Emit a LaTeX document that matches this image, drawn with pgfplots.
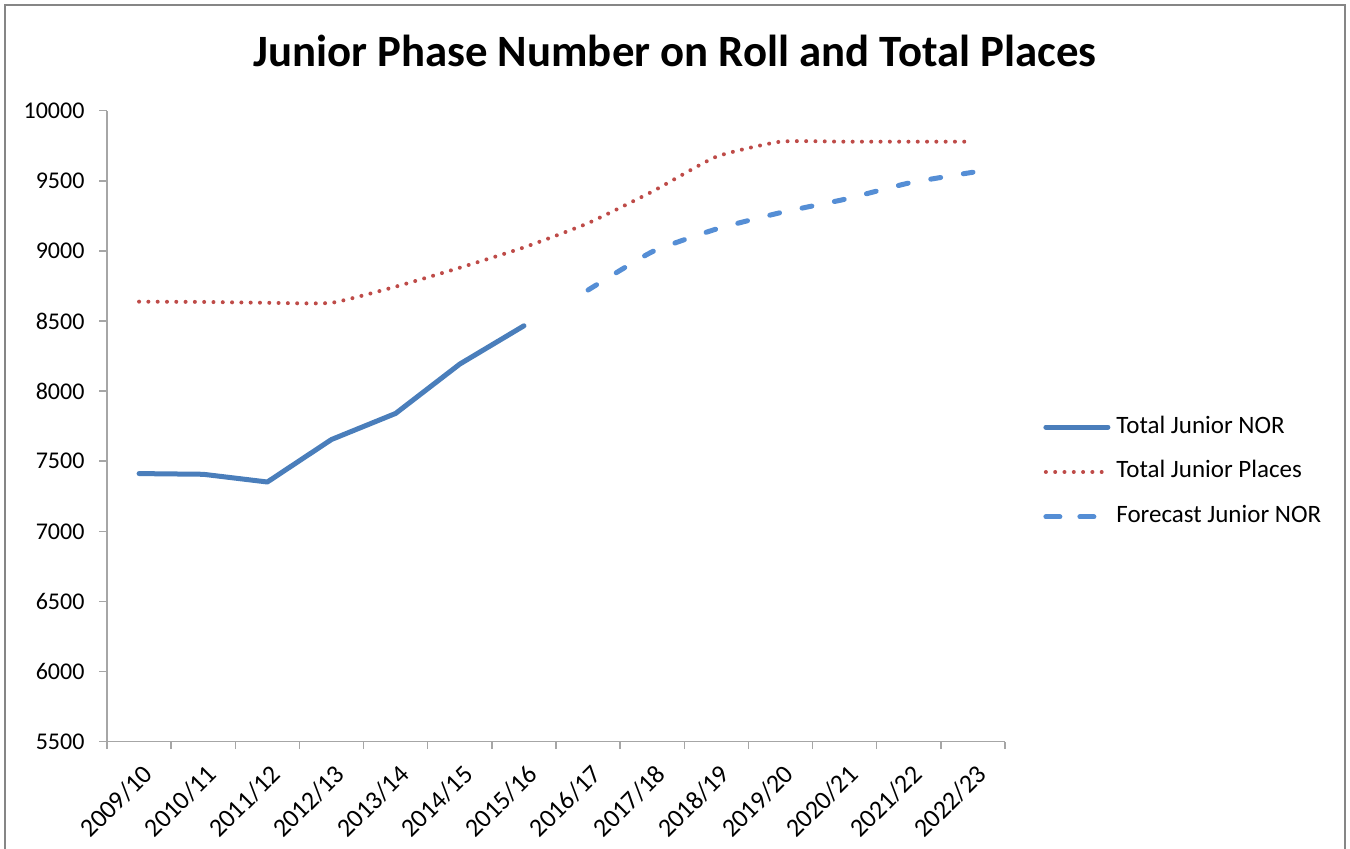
\documentclass[border=0pt]{standalone}
\usepackage{pgfplots}
\pgfplotsset{compat=1.18}
\usepackage{fontspec}
\setmainfont{Carlito}
\definecolor{norblue}{HTML}{4A7EBB}
\definecolor{placered}{HTML}{BE4B48}
\definecolor{fcblue}{HTML}{558ED5}
\definecolor{axgray}{HTML}{A6A6A6}
\definecolor{framegray}{HTML}{868686}
\pgfplotsset{fclegend/.style={legend image code/.code={\draw[#1, dash pattern=on 7pt off 10pt] (1.25pt,0pt) -- (25.25pt,0pt);}}}
\begin{document}
\begin{tikzpicture}[x=1pt,y=1pt]
\useasboundingbox (0,0) rectangle (675,424.5);
\draw[framegray, line width=1pt] (2.5,-5) -- (2.5,422) -- (672.5,422) -- (672.5,-5);
\node[font=\fontsize{22.4}{27}\selectfont\bfseries, anchor=base] at (337.5,391) {Junior Phase Number on Roll and Total Places};
\begin{axis}[
  at={(53.5pt,53.65pt)}, anchor=south west,
  width=449pt, height=315.5pt, scale only axis,
  xmin=-0.5, xmax=13.5, ymin=5500, ymax=10000,
  ytick={5500,6000,...,10000},
  scaled y ticks=false,
  xtick={-0.5,0.5,...,13.5},
  xticklabels={},
  extra x ticks={0,...,13},
  extra x tick labels={2009/10,2010/11,2011/12,2012/13,2013/14,2014/15,2015/16,2016/17,2017/18,2018/19,2019/20,2020/21,2021/22,2022/23},
  extra x tick style={major tick length=0pt, xticklabel style={xshift=1pt, yshift=-10.5pt, rotate=45, anchor=north east, inner sep=0pt, text height=9pt, font=\fontsize{13}{15}\selectfont}},
  axis lines=left,
  axis line style={-, draw=axgray, line width=0.75pt},
  tick align=outside,
  tick style={axgray, line width=0.75pt},
  major tick length=3.75pt,
  /pgf/number format/assume math mode=true,
  /pgf/number format/1000 sep={},
  tick label style={font=\fontsize{12}{14}\selectfont, black},
  yticklabel style={anchor=east, xshift=-4pt},
  clip=false,
  legend style={at={(axis description cs:1.0423,0.4274)}, anchor=west, draw=none, fill=none,
    font=\fontsize{12.5}{14}\selectfont, inner sep=0pt, row sep=11.5pt,
    nodes={inner sep=0pt, text height=8.5pt, text depth=2.5pt},
    /tikz/every odd column/.append style={column sep=3pt}},
  legend cell align=left,
  legend image code/.code={\draw[#1] (1.25pt,0pt) -- (32.25pt,0pt);},
]
\addplot[norblue, line width=2.5pt, line cap=round, line join=round] coordinates {(0,7412)(1,7407)(2,7352)(3,7655)(4,7841)(5,8193)(6,8466)};
\addlegendentry{Total Junior NOR}
\addplot[placered, line width=2pt, line cap=round, dash pattern=on 0pt off 4.65pt, smooth, tension=0.3] coordinates {(0,8638)(1,8636)(2,8630)(3,8630)(4,8745)(5,8880)(6,9025)(7,9198)(8,9423)(9,9672)(10,9779)(11,9779)(12,9779)(13,9779)};
\addlegendentry{Total Junior Places}
\addplot[fcblue, line width=2.5pt, line cap=round, dash pattern=on 5pt off 11.5pt, smooth, tension=0.3, fclegend] coordinates {(7,8721)(8,8994)(9,9156)(10,9273)(11,9368)(12,9484)(13,9561)};
\addlegendentry{Forecast Junior NOR}
\end{axis}
\end{tikzpicture}
\end{document}
